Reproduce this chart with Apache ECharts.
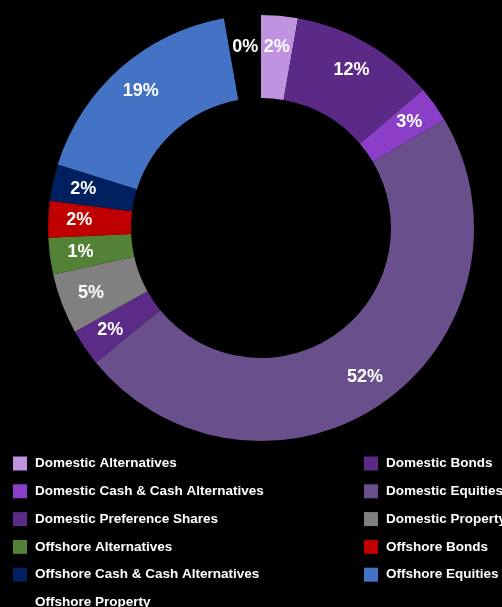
<!DOCTYPE html>
<html>
<head>
<meta charset="utf-8">
<style>
html,body{margin:0;padding:0;background:#000;}
#main{width:502px;height:607px;}
</style>
<script src="https://cdn.jsdelivr.net/npm/echarts@6/dist/echarts.min.js"></script>
</head>
<body>
<div id="main"></div>
<script>
const categories = [
  'Domestic Alternatives',
  'Domestic Bonds',
  'Domestic Cash & Cash Alternatives',
  'Domestic Equities',
  'Domestic Preference Shares',
  'Domestic Property',
  'Offshore Alternatives',
  'Offshore Bonds',
  'Offshore Cash & Cash Alternatives',
  'Offshore Equities',
  'Offshore Property'
];
const values = [2, 12, 3, 52, 2, 5, 1, 2, 2, 19, 0];
const colors = ['#BF93E0', '#5B2A86', '#8B3FC9', '#69508D', '#5C2A87', '#808080',
                '#538135', '#C00000', '#002060', '#4472C4', '#000000'];

const data = categories.map((n, i) => ({ name: n, value: values[i], itemStyle: { color: colors[i] } }));
const leftNames = categories.filter((_, i) => i % 2 === 0);
const rightNames = categories.filter((_, i) => i % 2 === 1);

const chart = echarts.init(document.getElementById('main'), null, { renderer: 'canvas' });
const legendCommon = {
  orient: 'vertical',
  top: 456.5,
  height: 400,
  padding: 0,
  itemWidth: 14,
  itemHeight: 14,
  itemGap: 13.8,
  icon: 'rect',
  selectedMode: false,
  textStyle: {
    color: '#ffffff',
    fontFamily: 'Liberation Sans, Arial, sans-serif',
    fontWeight: 'bold',
    fontSize: 13.5,
    lineHeight: 14,
    padding: [0, 0, 0, 3]
  }
};
chart.setOption({
  backgroundColor: '#000000',
  animation: false,
  legend: [
    Object.assign({}, legendCommon, { left: 13, width: 340, data: leftNames }),
    Object.assign({}, legendCommon, { left: 364, width: 340, data: rightNames })
  ],
  series: [
    {
      type: 'pie',
      center: [261, 228],
      radius: [130, 213],
      startAngle: 90,
      clockwise: true,
      minAngle: 10,
      avoidLabelOverlap: false,
      label: { show: false },
      labelLine: { show: false },
      itemStyle: { borderWidth: 0 },
      emphasis: { disabled: true },
      data: data
    },
    {
      type: 'pie',
      center: [261, 228],
      radius: [145, 213],
      startAngle: 90,
      clockwise: true,
      minAngle: 10,
      silent: true,
      avoidLabelOverlap: false,
      itemStyle: { color: 'rgba(0,0,0,0)', borderWidth: 0 },
      label: {
        show: true,
        position: 'inside',
        color: '#ffffff',
        fontFamily: 'Liberation Sans, Arial, sans-serif',
        fontWeight: 'bold',
        fontSize: 18,
        formatter: p => p.value + '%'
      },
      labelLine: { show: false },
      emphasis: { disabled: true },
      data: categories.map((n, i) => ({ name: n, value: values[i] }))
    }
  ]
});
</script>
</body>
</html>
